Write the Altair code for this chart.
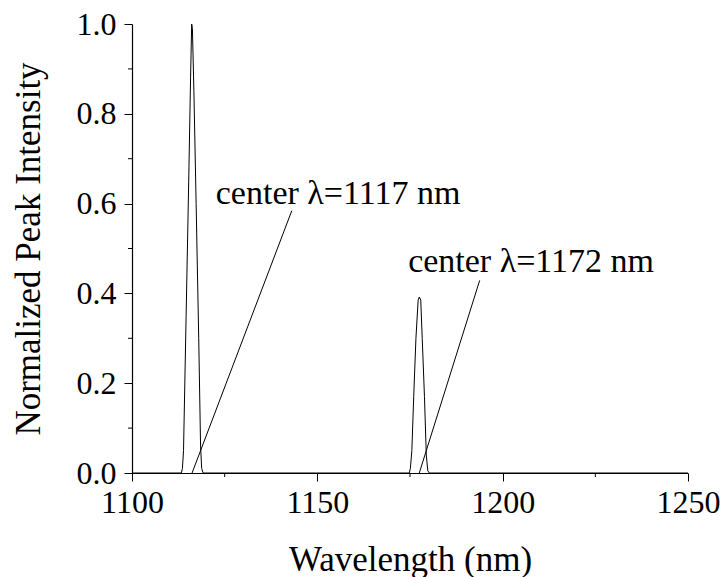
import altair as alt
import pandas as pd

# Spectrum (wavelength in nm, normalized intensity)
wavelength = [1100, 1113.3, 1113.6, 1113.9, 1114.6, 1115.3, 1115.8, 1116.1, 1116.3,
              1116.7, 1117.3, 1118.0, 1118.5, 1118.8, 1119.2,
              1174.8, 1175.1, 1175.5, 1176.0, 1176.6, 1177.2, 1177.5, 1177.9,
              1178.3, 1178.9, 1179.4, 1179.8, 1180.2, 1250]
intensity = [0, 0, 0.01, 0.05, 0.35, 0.65, 0.88, 1.0, 0.99,
             0.85, 0.60, 0.30, 0.06, 0.01, 0,
             0, 0.01, 0.05, 0.17, 0.30, 0.385, 0.392, 0.385,
             0.30, 0.17, 0.04, 0.005, 0, 0]

# Annotations
ann_text = ["center \u03bb=1117 nm", "center \u03bb=1172 nm"]
ann_text_x = [1122.6, 1174.5]
ann_text_y = [0.60, 0.447]
ann_line_x1 = [1143.1, 1193.8]
ann_line_y1 = [0.584, 0.429]
ann_line_x2 = [1116.2, 1177.5]
ann_line_y2 = [0.0, 0.0]

x_major = [1100, 1150, 1200, 1250]
x_minor = [1125, 1175, 1225]
y_major = [0, 0.2, 0.4, 0.6, 0.8, 1.0]
y_minor = [0.1, 0.3, 0.5, 0.7, 0.9]

FONT = "Liberation Serif, DejaVu Serif, Noto Serif, serif"
W, H = 556, 449

spec = pd.DataFrame({"w": wavelength, "i": intensity})
texts = pd.DataFrame({"t": ann_text, "x": ann_text_x, "y": ann_text_y})
lines = pd.DataFrame({"x1": ann_line_x1, "y1": ann_line_y1, "x2": ann_line_x2, "y2": ann_line_y2})
xmin_df = pd.DataFrame({"x": x_minor})
ymin_df = pd.DataFrame({"y": y_minor})

xscale = alt.Scale(domain=[1100, 1250], nice=False, zero=False)
yscale = alt.Scale(domain=[0, 1.0], nice=False)

xaxis = alt.Axis(
    values=x_major, format="d",
    title="Wavelength (nm)",
    grid=False, labelFlush=False, labelOverlap=False,
    domainColor="black", domainWidth=1.2,
    tickColor="black", tickWidth=1, tickSize=8,
    labelFont=FONT, labelFontSize=32, labelColor="black", labelPadding=6,
    titleFont=FONT, titleFontSize=35, titleFontWeight="normal", titleColor="black",
    titleBaseline="alphabetic", titleY=97,
)
yaxis = alt.Axis(
    values=y_major, format=".1f",
    title="Normalized Peak Intensity",
    grid=False, labelFlush=False, labelOverlap=False,
    domainColor="black", domainWidth=1.2,
    tickColor="black", tickWidth=1, tickSize=8,
    labelFont=FONT, labelFontSize=32, labelColor="black", labelPadding=8,
    titleFont=FONT, titleFontSize=35, titleFontWeight="normal", titleColor="black",
    titleBaseline="alphabetic", titleX=-93, titleAngle=-90,
)

line = alt.Chart(spec).mark_line(color="black", strokeWidth=1).encode(
    x=alt.X("w:Q", scale=xscale, axis=xaxis),
    y=alt.Y("i:Q", scale=yscale, axis=yaxis),
)

leaders = alt.Chart(lines).mark_rule(color="black", strokeWidth=1).encode(
    x="x1:Q", y="y1:Q", x2="x2:Q", y2="y2:Q"
)

labels = alt.Chart(texts).mark_text(
    align="left", baseline="alphabetic", font=FONT, fontSize=34, color="black"
).encode(x="x:Q", y="y:Q", text="t:N")

xminor = alt.Chart(xmin_df).mark_rule(color="black", strokeWidth=1).encode(
    x="x:Q", y=alt.value(H), y2=alt.value(H + 4)
)
yminor = alt.Chart(ymin_df).mark_rule(color="black", strokeWidth=1).encode(
    y="y:Q", x=alt.value(0), x2=alt.value(-4)
)

chart = alt.layer(line, leaders, labels, xminor, yminor).properties(
    width=W, height=H,
    autosize=alt.AutoSizeParams(type="none"),
    padding={"left": 124, "top": 16, "right": 32, "bottom": 104},
    background="white",
).configure(font=FONT).configure_view(stroke=None)

chart.save("out.html", embed_options={"renderer": "svg", "actions": False})
